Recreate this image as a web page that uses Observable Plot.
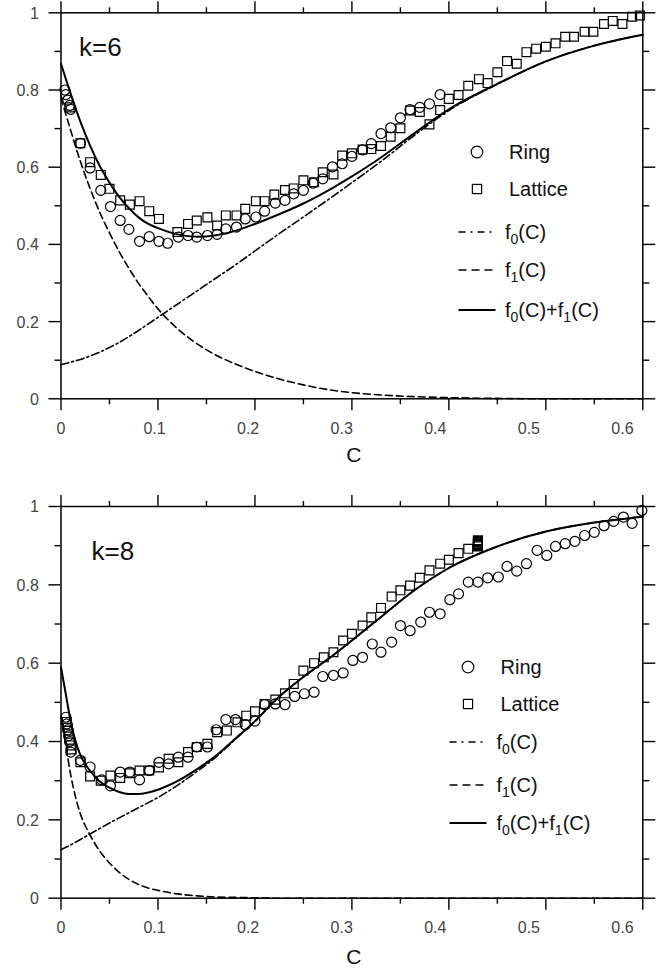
<!DOCTYPE html>
<html>
<head>
<meta charset="utf-8">
<script src="https://cdn.jsdelivr.net/npm/d3@7"></script>
<script src="https://cdn.jsdelivr.net/npm/@observablehq/plot@0.6"></script>
<style>
html,body{margin:0;padding:0;background:#fff;}
#wrap{position:relative;width:661px;height:969px;overflow:hidden;font-family:"Liberation Sans",Arial,Helvetica,sans-serif;}
.pl{position:absolute;left:0;}
.lg{position:absolute;font-size:20px;line-height:20px;color:#111;white-space:nowrap;}
.lg sub{font-size:14px;line-height:0;vertical-align:-5px;}
.lgsym{position:absolute;overflow:visible;}
</style>
</head>
<body>
<div id="wrap"></div>
<script>
// ---------- axis ticks ----------
const xMajor = [0, 0.1, 0.2, 0.3, 0.4, 0.5, 0.6];
const xMinor = [0.05, 0.15, 0.25, 0.35, 0.45, 0.55];
const yMajor = [0, 0.2, 0.4, 0.6, 0.8, 1];
const yMinor = [0.1, 0.3, 0.5, 0.7, 0.9];
const LABEL_SQUEEZE = 0.965; // x tick labels sit slightly towards the origin in the original
const legendLabels = ["Ring", "Lattice", "f<sub>0</sub>(C)", "f<sub>1</sub>(C)", "f<sub>0</sub>(C)+f<sub>1</sub>(C)"];

// ---------- k = 6 ----------
const curveC6 = [0, 0.01, 0.02, 0.03, 0.04, 0.05, 0.06, 0.07, 0.08, 0.09, 0.10, 0.12, 0.14, 0.16, 0.18, 0.20, 0.22, 0.25, 0.28, 0.30, 0.33, 0.36, 0.40, 0.45, 0.50, 0.55, 0.60];
const f0_6 = [0.088, 0.095, 0.102, 0.111, 0.121, 0.133, 0.146, 0.161, 0.177, 0.194, 0.211, 0.245, 0.279, 0.313, 0.347, 0.383, 0.419, 0.471, 0.524, 0.560, 0.615, 0.674, 0.747, 0.815, 0.874, 0.915, 0.943];
const f1_6 = [0.780, 0.695, 0.615, 0.545, 0.483, 0.430, 0.381, 0.338, 0.299, 0.265, 0.233, 0.182, 0.143, 0.113, 0.090, 0.071, 0.055, 0.036, 0.022, 0.016, 0.010, 0.006, 0.003, 0.001, 0, 0, 0];
const sum6 = [0.868, 0.790, 0.718, 0.656, 0.603, 0.560, 0.523, 0.494, 0.470, 0.453, 0.442, 0.426, 0.420, 0.424, 0.435, 0.453, 0.473, 0.506, 0.546, 0.576, 0.625, 0.680, 0.750, 0.816, 0.874, 0.915, 0.943];

const ringC6 = [0.004, 0.005, 0.007, 0.009, 0.010, 0.020, 0.030, 0.041, 0.051, 0.061, 0.070, 0.081, 0.091, 0.101, 0.110, 0.121, 0.131, 0.140, 0.151, 0.161, 0.170, 0.181, 0.190, 0.201, 0.210, 0.221, 0.231, 0.240, 0.250, 0.260, 0.270, 0.280, 0.290, 0.300, 0.311, 0.320, 0.330, 0.340, 0.350, 0.360, 0.370, 0.380, 0.391];
const ringV6 = [0.800, 0.788, 0.774, 0.760, 0.750, 0.662, 0.598, 0.540, 0.498, 0.462, 0.439, 0.408, 0.420, 0.408, 0.403, 0.419, 0.423, 0.419, 0.423, 0.426, 0.440, 0.445, 0.466, 0.471, 0.486, 0.507, 0.514, 0.531, 0.540, 0.559, 0.570, 0.601, 0.609, 0.628, 0.645, 0.661, 0.687, 0.702, 0.728, 0.749, 0.755, 0.764, 0.788];

const latC6 = [0.009, 0.020, 0.030, 0.041, 0.050, 0.061, 0.071, 0.081, 0.091, 0.101, 0.120, 0.131, 0.140, 0.151, 0.161, 0.170, 0.181, 0.190, 0.201, 0.210, 0.220, 0.231, 0.240, 0.250, 0.261, 0.270, 0.281, 0.290, 0.300, 0.311, 0.320, 0.330, 0.340, 0.350, 0.360, 0.370, 0.380, 0.391, 0.400, 0.410, 0.420, 0.431, 0.440, 0.450, 0.460, 0.470, 0.480, 0.490, 0.500, 0.510, 0.520, 0.529, 0.540, 0.549, 0.560, 0.569, 0.579, 0.589, 0.597];
const latV6 = [0.755, 0.662, 0.613, 0.580, 0.544, 0.514, 0.503, 0.512, 0.486, 0.466, 0.432, 0.453, 0.462, 0.470, 0.449, 0.475, 0.475, 0.492, 0.512, 0.512, 0.529, 0.541, 0.545, 0.566, 0.561, 0.587, 0.581, 0.630, 0.636, 0.646, 0.647, 0.655, 0.679, 0.701, 0.747, 0.743, 0.711, 0.748, 0.777, 0.787, 0.811, 0.828, 0.818, 0.846, 0.875, 0.868, 0.898, 0.907, 0.912, 0.921, 0.938, 0.938, 0.951, 0.951, 0.971, 0.979, 0.971, 0.990, 0.993];

// ---------- k = 8 ----------
const curveC8 = [0, 0.005, 0.01, 0.015, 0.02, 0.025, 0.03, 0.04, 0.05, 0.06, 0.07, 0.08, 0.09, 0.10, 0.11, 0.12, 0.14, 0.16, 0.18, 0.20, 0.22, 0.25, 0.28, 0.30, 0.33, 0.36, 0.40, 0.45, 0.50, 0.55, 0.60];
const f0_8 = [0.124, 0.130, 0.136, 0.143, 0.150, 0.157, 0.164, 0.178, 0.192, 0.205, 0.218, 0.231, 0.244, 0.257, 0.272, 0.288, 0.323, 0.361, 0.406, 0.451, 0.503, 0.565, 0.619, 0.658, 0.718, 0.778, 0.843, 0.898, 0.936, 0.959, 0.974];
const f1_8 = [0.466, 0.390, 0.315, 0.258, 0.215, 0.185, 0.161, 0.120, 0.090, 0.066, 0.048, 0.035, 0.026, 0.020, 0.015, 0.011, 0.006, 0.003, 0.002, 0.001, 0, 0, 0, 0, 0, 0, 0, 0, 0, 0, 0];
const sum8 = [0.590, 0.520, 0.451, 0.401, 0.365, 0.342, 0.325, 0.298, 0.282, 0.271, 0.266, 0.266, 0.270, 0.277, 0.287, 0.299, 0.329, 0.364, 0.408, 0.452, 0.503, 0.565, 0.619, 0.658, 0.718, 0.778, 0.843, 0.898, 0.936, 0.959, 0.974];

const ringC8 = [0.005, 0.006, 0.007, 0.008, 0.009, 0.010, 0.020, 0.030, 0.042, 0.051, 0.061, 0.071, 0.081, 0.091, 0.101, 0.111, 0.121, 0.131, 0.140, 0.151, 0.160, 0.170, 0.180, 0.190, 0.200, 0.210, 0.221, 0.231, 0.241, 0.251, 0.261, 0.270, 0.281, 0.291, 0.301, 0.311, 0.321, 0.330, 0.341, 0.350, 0.360, 0.371, 0.380, 0.391, 0.401, 0.410, 0.420, 0.430, 0.440, 0.451, 0.460, 0.470, 0.480, 0.491, 0.501, 0.510, 0.520, 0.530, 0.540, 0.550, 0.560, 0.570, 0.580, 0.589, 0.599];
const ringV8 = [0.462, 0.445, 0.430, 0.415, 0.400, 0.373, 0.352, 0.335, 0.302, 0.287, 0.322, 0.322, 0.302, 0.326, 0.347, 0.343, 0.360, 0.360, 0.386, 0.386, 0.430, 0.456, 0.456, 0.443, 0.452, 0.494, 0.496, 0.494, 0.515, 0.522, 0.526, 0.566, 0.569, 0.575, 0.607, 0.615, 0.649, 0.628, 0.654, 0.696, 0.683, 0.705, 0.730, 0.726, 0.762, 0.777, 0.807, 0.807, 0.818, 0.820, 0.847, 0.835, 0.854, 0.888, 0.875, 0.898, 0.905, 0.911, 0.926, 0.934, 0.951, 0.962, 0.973, 0.957, 0.990];

const latC8 = [0.006, 0.007, 0.008, 0.009, 0.010, 0.011, 0.020, 0.030, 0.041, 0.051, 0.061, 0.071, 0.081, 0.091, 0.101, 0.111, 0.121, 0.131, 0.140, 0.151, 0.161, 0.171, 0.182, 0.191, 0.200, 0.210, 0.221, 0.231, 0.240, 0.250, 0.261, 0.271, 0.281, 0.291, 0.300, 0.311, 0.320, 0.330, 0.341, 0.350, 0.360, 0.370, 0.380, 0.391, 0.400, 0.410, 0.420, 0.430, 0.430, 0.430, 0.430, 0.430, 0.430, 0.430, 0.430, 0.430];
const latV8 = [0.450, 0.435, 0.420, 0.405, 0.390, 0.380, 0.347, 0.311, 0.300, 0.313, 0.307, 0.319, 0.326, 0.326, 0.334, 0.356, 0.347, 0.373, 0.386, 0.394, 0.424, 0.428, 0.449, 0.466, 0.477, 0.496, 0.507, 0.523, 0.547, 0.581, 0.600, 0.615, 0.628, 0.658, 0.675, 0.696, 0.717, 0.741, 0.770, 0.786, 0.798, 0.818, 0.837, 0.854, 0.864, 0.881, 0.892, 0.898, 0.900, 0.902, 0.904, 0.906, 0.908, 0.910, 0.912, 0.914];

// ---------- drawing ----------
const FONT = '"Liberation Sans", Arial, Helvetica, sans-serif';
const wrap = document.getElementById("wrap");

function panel(o) {
  const curves = o.curveC.map((c, i) => ({c, f0: o.f0[i], f1: o.f1[i], s: o.sum[i]}));
  const ring = o.ringC.map((c, i) => ({c, v: o.ringV[i]}));
  const lat = o.latC.map((c, i) => ({c, v: o.latV[i]}));
  const axisStyle = {strokeWidth: 1.4, stroke: "black", fill: "none", label: null};
  const svg = Plot.plot({
    width: 661, height: o.height,
    marginTop: o.marginTop, marginBottom: o.marginBottom,
    marginLeft: 60.5, marginRight: 18.7,
    style: {fontFamily: FONT, background: "transparent", overflow: "visible"},
    x: {domain: [0, 0.6]},
    y: {domain: [0, 1]},
    marks: [
      Plot.line(curves, {x: "c", y: "f0", stroke: "black", strokeWidth: 1.6, strokeDasharray: "8,3,2,3", curve: "monotone-x"}),
      Plot.line(curves, {x: "c", y: "f1", stroke: "black", strokeWidth: 1.6, strokeDasharray: "7,4", curve: "monotone-x"}),
      Plot.line(curves, {x: "c", y: "s", stroke: "black", strokeWidth: 2, curve: "monotone-x"}),
      Plot.dot(ring, {x: "c", y: "v", r: 5, symbol: "circle", stroke: "black", strokeWidth: 1.2, fill: "none"}),
      Plot.dot(lat, {x: "c", y: "v", r: 5, symbol: "square", stroke: "black", strokeWidth: 1.2, fill: "none"}),
      Plot.axisX({ticks: xMajor, anchor: "bottom", tickSize: 12, ...axisStyle}),
      Plot.axisX({ticks: xMinor, anchor: "bottom", tickSize: 6, ...axisStyle}),
      Plot.axisX({ticks: xMajor, anchor: "top", tickSize: 12, ...axisStyle}),
      Plot.axisX({ticks: xMinor, anchor: "top", tickSize: 6, ...axisStyle}),
      Plot.axisY({ticks: yMajor, anchor: "left", tickSize: 12, ...axisStyle}),
      Plot.axisY({ticks: yMinor, anchor: "left", tickSize: 6, ...axisStyle}),
      Plot.axisY({ticks: yMajor, anchor: "right", tickSize: 12, ...axisStyle}),
      Plot.axisY({ticks: yMinor, anchor: "right", tickSize: 6, ...axisStyle}),
      Plot.frame({stroke: "black", strokeWidth: 1.5}),
      Plot.text(xMajor, {x: d => d * LABEL_SQUEEZE, text: d => String(d), frameAnchor: "bottom", dy: 29.7, lineAnchor: "middle", fontSize: 16, fill: "#444"}),
      Plot.text(yMajor, {y: d => d, text: d => String(d), frameAnchor: "left", dx: -22.2, dy: 0.8, textAnchor: "end", lineAnchor: "middle", fontSize: 16, fill: "#444"}),
      Plot.text([o.kLabel], {text: d => d, frameAnchor: "top-left", dx: o.kDx, dy: o.kDy, textAnchor: "start", lineAnchor: "middle", fontSize: 26, fill: "#111"}),
      Plot.text(["C"], {text: d => d, frameAnchor: "bottom", dx: 2, dy: o.cDy, lineAnchor: "middle", fontSize: 21, fill: "#111"})
    ]
  });
  const holder = document.createElement("div");
  holder.className = "pl";
  holder.style.top = o.top + "px";
  holder.appendChild(svg);
  wrap.appendChild(holder);
}

function legend(rowsY, cx) {
  const kinds = ["circle", "square", "dashdot", "dash", "solid"];
  const NS = "http://www.w3.org/2000/svg";
  kinds.forEach((kind, i) => {
    const y = rowsY[i];
    const s = document.createElementNS(NS, "svg");
    s.setAttribute("class", "lgsym");
    s.setAttribute("width", 40); s.setAttribute("height", 20);
    s.style.left = (cx - 20) + "px"; s.style.top = (y - 10) + "px";
    let el;
    if (kind === "circle") {
      el = document.createElementNS(NS, "circle");
      el.setAttribute("cx", 20); el.setAttribute("cy", 10); el.setAttribute("r", 5.8);
    } else if (kind === "square") {
      el = document.createElementNS(NS, "rect");
      el.setAttribute("x", 15.4); el.setAttribute("y", 5.4); el.setAttribute("width", 9.2); el.setAttribute("height", 9.2);
    } else {
      el = document.createElementNS(NS, "line");
      el.setAttribute("x1", 1.5); el.setAttribute("x2", 38.5); el.setAttribute("y1", 10); el.setAttribute("y2", 10);
      if (kind === "dashdot") el.setAttribute("stroke-dasharray", "7,5,2,5");
      if (kind === "dash") el.setAttribute("stroke-dasharray", "8,5");
    }
    el.setAttribute("fill", "none");
    el.setAttribute("stroke", "black");
    el.setAttribute("stroke-width", kind === "solid" ? 2 : (kind === "circle" || kind === "square") ? 1.2 : 1.6);
    s.appendChild(el);
    wrap.appendChild(s);
    const t = document.createElement("div");
    t.className = "lg";
    t.innerHTML = legendLabels[i];
    t.style.left = (cx + (i < 2 ? 32.5 : 28.5)) + "px";
    t.style.top = (y - 10) + "px";
    wrap.appendChild(t);
  });
}

panel({top: 0, height: 485, marginTop: 12.3, marginBottom: 86.7,
  curveC: curveC6, f0: f0_6, f1: f1_6, sum: sum6,
  ringC: ringC6, ringV: ringV6, latC: latC6, latV: latV6,
  kLabel: "k=6", kDx: 18, kDy: 35, cDy: 56.7});
panel({top: 485, height: 484, marginTop: 21, marginBottom: 71.3,
  curveC: curveC8, f0: f0_8, f1: f1_8, sum: sum8,
  ringC: ringC8, ringV: ringV8, latC: latC8, latV: latV8,
  kLabel: "k=8", kDx: 30.5, kDy: 45.5, cDy: 59});
legend([152, 189, 232, 270, 310], 476.5);
legend([667, 704, 742, 785, 823], 468);
</script>
</body>
</html>
